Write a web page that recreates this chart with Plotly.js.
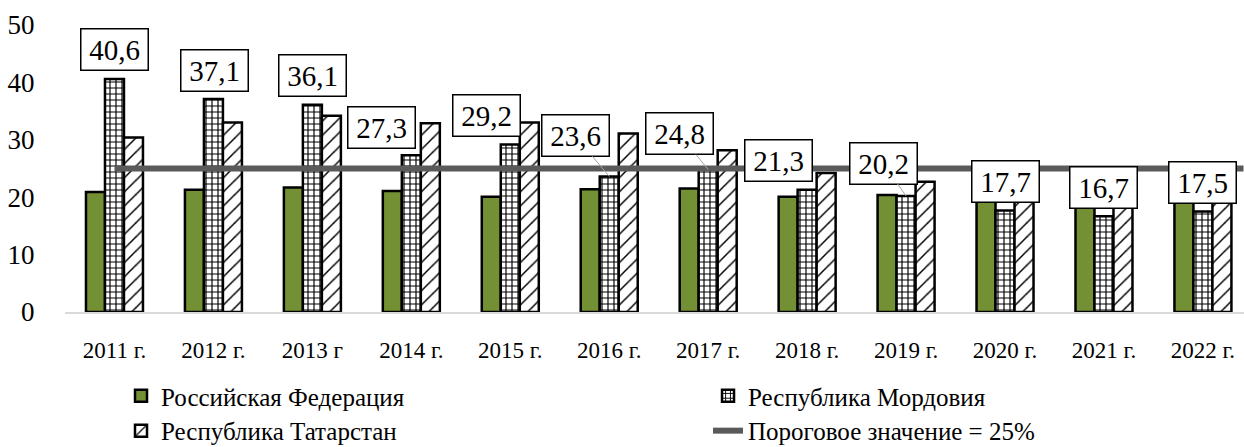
<!DOCTYPE html>
<html>
<head>
<meta charset="utf-8">
<script src="https://cdn.plot.ly/plotly-3.0.1.min.js"></script>
<style>
  html, body { margin: 0; padding: 0; background: #fff; }
  #chart { width: 1244px; height: 447px; }
</style>
</head>
<body>
<div id="chart"></div>
<script>
// ---- data ----
const years = ["2011 г.", "2012 г.", "2013 г", "2014 г.", "2015 г.", "2016 г.", "2017 г.", "2018 г.", "2019 г.", "2020 г.", "2021 г.", "2022 г."];
const russia =    [20.9, 21.3, 21.7, 21.1, 20.1, 21.4, 21.5, 20.1, 20.4, 19.8, 19.0, 19.5];
const mordovia =  [40.6, 37.1, 36.1, 27.3, 29.2, 23.6, 24.8, 21.3, 20.2, 17.7, 16.7, 17.5];
const tatarstan = [30.4, 33.0, 34.2, 32.9, 33.0, 31.1, 28.2, 24.2, 22.7, 20.0, 19.5, 19.8];
const threshold = [25, 25, 25, 25, 25, 25, 25, 25, 25, 25, 25, 25];
const seriesNames = ["Российская Федерация", "Республика Мордовия", "Республика Татарстан", "Пороговое значение = 25%"];

// label placement (pixel offsets of label box from the bar top) and leader-line flags
const labelOffsetX = [0, 1, 0, -30, -24, -34, -29, -29, -23, 0, 0, 0];
const labelOffsetY = [-29, -29, -29, -28, -29, -41, -36, -29, -33, -29, -29, -29];
const leaderLine =   [false, false, false, false, false, true, true, false, true, false, false, false];

const FONT = "Liberation Serif";
const fmt = v => v.toFixed(1).replace(".", ",");

const traces = [
  {
    type: "bar", name: seriesNames[0], x: years, y: russia,
    marker: { color: "#739134", line: { color: "#000", width: 2.5 } },
    legend: "legend", hoverinfo: "skip"
  },
  {
    type: "bar", name: seriesNames[1], x: years, y: mordovia,
    marker: { color: "#fff", line: { color: "#000", width: 2.5 },
      pattern: { shape: "+", fgcolor: "#000", bgcolor: "#fff", size: 6, solidity: 0.35 } },
    legend: "legend2", hoverinfo: "skip"
  },
  {
    type: "bar", name: seriesNames[2], x: years, y: tatarstan,
    marker: { color: "#fff", line: { color: "#000", width: 2.5 },
      pattern: { shape: "/", fgcolor: "#000", bgcolor: "#fff", size: 10, solidity: 0.15 } },
    legend: "legend3", hoverinfo: "skip"
  },
  {
    type: "scatter", mode: "lines", name: seriesNames[3], x: years, y: threshold,
    line: { color: "#5a5a5a", width: 6 },
    legend: "legend4", hoverinfo: "skip"
  }
];

const annotations = years.map((yr, i) => ({
  x: yr, y: mordovia[i], xref: "x", yref: "y",
  text: fmt(mordovia[i]),
  showarrow: true, arrowhead: 0, arrowwidth: 1,
  arrowcolor: leaderLine[i] ? "#a6a6a6" : "rgba(0,0,0,0)",
  ax: labelOffsetX[i], ay: labelOffsetY[i],
  font: { family: FONT, size: 29, color: "#000" },
  bgcolor: "#fff", bordercolor: "#000", borderwidth: 1.5, borderpad: 1,
  width: 64, height: 38
}));

const legendCommon = {
  orientation: "h", xanchor: "left", yanchor: "middle", yref: "container",
  font: { family: FONT, size: 25, color: "#000" },
  traceorder: "normal", bgcolor: "rgba(0,0,0,0)"
};

const layout = {
  width: 1244, height: 447,
  margin: { l: 65, r: 0, t: 25, b: 135 },
  paper_bgcolor: "#fff", plot_bgcolor: "#fff",
  font: { family: FONT, color: "#000" },
  barmode: "group", bargap: 0.424, bargroupgap: 0,
  showlegend: true,
  xaxis: {
    type: "category", range: [-0.5, 11.415], automargin: false,
    showline: true, linecolor: "#d9d9d9", linewidth: 2,
    showgrid: false, zeroline: false,
    ticks: "outside", ticklen: 0, ticklabelstandoff: 16,
    tickfont: { family: FONT, size: 23, color: "#000" }
  },
  yaxis: {
    range: [0, 50], dtick: 10, showline: false, showgrid: false, zeroline: false, automargin: false,
    ticks: "outside", ticklen: 0, ticklabelstandoff: 24,
    tickfont: { family: FONT, size: 27, color: "#000" }
  },
  shapes: [{
    type: "line", xref: "x", yref: "y",
    x0: years[years.length - 1], x1: years[years.length - 1], x1shift: 0.41,
    y0: threshold[threshold.length - 1], y1: threshold[threshold.length - 1],
    line: { color: "#5a5a5a", width: 6 }, layer: "above"
  }],
  legend:  Object.assign({}, legendCommon, { x: 0.0475, y: 0.114 }),
  legend2: Object.assign({}, legendCommon, { x: 0.5454, y: 0.114 }),
  legend3: Object.assign({}, legendCommon, { x: 0.0475, y: 0.036 }),
  legend4: Object.assign({}, legendCommon, { x: 0.5454, y: 0.036 }),
  annotations: annotations
};

Plotly.newPlot("chart", traces, layout, { staticPlot: true, displayModeBar: false });
</script>
</body>
</html>
